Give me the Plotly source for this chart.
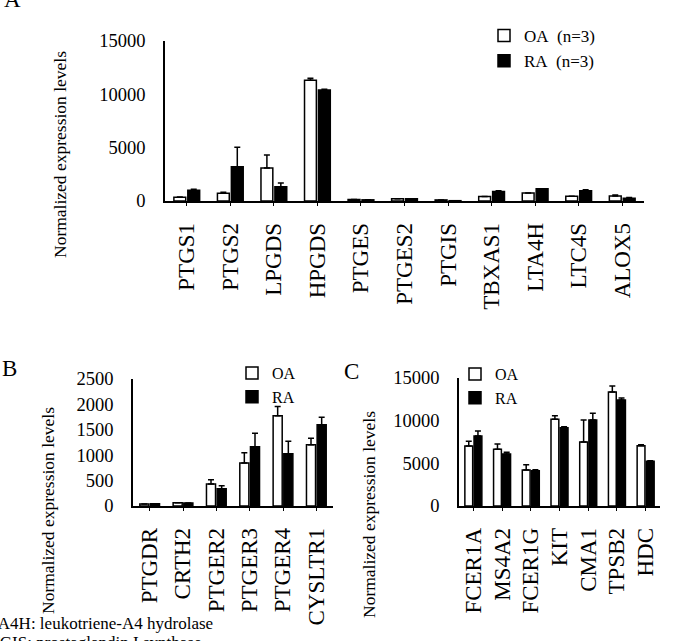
import plotly.graph_objects as go

# ---------------- data ----------------
genes_A = ["PTGS1", "PTGS2", "LPGDS", "HPGDS", "PTGES", "PTGES2", "PTGIS",
           "TBXAS1", "LTA4H", "LTC4S", "ALOX5"]
oa_A = [340, 720, 3090, 11310, 150, 220, 100, 420, 750, 440, 460]
oa_A_err = [30, 90, 1220, 190, 0, 0, 0, 0, 0, 0, 100]
ra_A = [1000, 3220, 1340, 10400, 110, 220, 30, 900, 1150, 960, 250]
ra_A_err = [100, 1810, 350, 70, 0, 0, 0, 60, 0, 90, 70]

genes_B = ["PTGDR", "CRTH2", "PTGER2", "PTGER3", "PTGER4", "CYSLTR1"]
oa_B = [40, 66, 433, 846, 1778, 1207]
oa_B_err = [0, 0, 85, 204, 183, 125]
ra_B = [46, 60, 341, 1168, 1030, 1600]
ra_B_err = [0, 0, 59, 262, 243, 145]

genes_C = ["FCER1A", "MS4A2", "FCER1G", "KIT", "CMA1", "TPSB2", "HDC"]
oa_C = [7030, 6640, 4220, 10160, 7500, 13360, 7070]
oa_C_err = [550, 625, 625, 430, 2580, 700, 120]
ra_C = [8200, 6090, 4140, 9180, 10080, 12420, 5230]
ra_C_err = [590, 200, 120, 120, 780, 240, 80]

yticks_A = [0, 5000, 10000, 15000]
yticks_B = [0, 500, 1000, 1500, 2000, 2500]
yticks_C = [0, 5000, 10000, 15000]

footnotes = ["LTA4H: leukotriene-A4 hydrolase", "PTGIS: prostaglandin I synthase"]

# ---------------- layout helpers ----------------
W, H = 676, 641
SERIF = "Liberation Serif"


def fx(px):
    return px / W


def fy(py):
    return 1 - py / H


fig = go.Figure()


def add_pair(genes, oa, oa_err, ra, ra_err, xa, ya, legend, oa_name, ra_name, cap):
    n = len(genes)
    fig.add_trace(go.Bar(
        x=genes, y=oa, name=oa_name, xaxis=xa, yaxis=ya, legend=legend,
        marker=dict(color="white", line=dict(color="black", width=1.5)),
        error_y=dict(type="data", array=oa_err, arrayminus=[0] * n, symmetric=False,
                     color="black", thickness=1.5, width=cap),
    ))
    fig.add_trace(go.Bar(
        x=genes, y=ra, name=ra_name, xaxis=xa, yaxis=ya, legend=legend,
        marker=dict(color="black", line=dict(color="black", width=1.5)),
        error_y=dict(type="data", array=ra_err, arrayminus=[0] * n, symmetric=False,
                     color="black", thickness=1.5, width=cap),
    ))


nb = "\u00a0"
add_pair(genes_A, oa_A, oa_A_err, ra_A, ra_A_err, "x", "y", "legend",
         "OA" + nb * 2 + "(n=3)", "RA" + nb * 2 + "(n=3)", 3)
add_pair(genes_B, oa_B, oa_B_err, ra_B, ra_B_err, "x2", "y2", "legend2", "OA", "RA", 3)
add_pair(genes_C, oa_C, oa_C_err, ra_C, ra_C_err, "x3", "y3", "legend3", "OA", "RA", 3)


def xaxis(domain, anchor):
    return dict(domain=domain, anchor=anchor, showline=True, linecolor="black",
                linewidth=1.5, ticks="outside", ticklen=3, tickwidth=1,
                tickcolor="black", tickangle=-90, showgrid=False, zeroline=False,
                automargin=False, ticklabelstandoff=8,
                tickfont=dict(family=SERIF, size=23, color="black"))


def yaxis(domain, anchor, rng, tv):
    return dict(domain=domain, anchor=anchor, range=rng, tickvals=tv,
                ticktext=[str(v) for v in tv],
                showline=True, linecolor="black", linewidth=1.5, ticks="",
                showgrid=False, zeroline=False, automargin=False,
                ticklabelstandoff=14,
                tickfont=dict(family=SERIF, size=18.5, color="black"))


legend_common = dict(xanchor="left", yanchor="top", bgcolor="rgba(0,0,0,0)",
                     tracegroupgap=0, itemclick=False)

fig.update_layout(
    width=W, height=H,
    margin=dict(l=0, r=0, t=0, b=0),
    paper_bgcolor="white", plot_bgcolor="white",
    barmode="group", bargap=0.36, bargroupgap=0.15,
    font=dict(family=SERIF, color="black"),
    xaxis=xaxis([fx(165), fx(644)], "y"),
    yaxis=yaxis([fy(201), fy(41)], "x", [0, 15000], yticks_A),
    xaxis2=xaxis([fx(133), fx(333)], "y2"),
    yaxis2=yaxis([fy(506), fy(379)], "x2", [0, 2500], yticks_B),
    xaxis3=xaxis([fx(459), fx(660)], "y3"),
    yaxis3=yaxis([fy(506), fy(378)], "x3", [0, 15000], yticks_C),
    legend=dict(x=fx(484), y=fy(18), font=dict(family=SERIF, size=17, color="black"),
                **legend_common),
    legend2=dict(x=fx(232), y=fy(356), font=dict(family=SERIF, size=16, color="black"),
                 **legend_common),
    legend3=dict(x=fx(455), y=fy(357), font=dict(family=SERIF, size=16, color="black"),
                 **legend_common),
)

annos = []
# panel letters
for letter, px, py in [("A", 2, 14), ("B", 0, 383), ("C", 342, 386)]:
    annos.append(dict(text=letter, x=fx(px), y=fy(py), xref="paper", yref="paper",
                      xanchor="left", yanchor="bottom", showarrow=False,
                      font=dict(family=SERIF, size=23, color="black")))
# y-axis titles
for px, py in [(60, 155), (48, 511), (369, 514)]:
    annos.append(dict(text="Normalized expression levels", x=fx(px), y=fy(py),
                      xref="paper", yref="paper", xanchor="center", yanchor="middle",
                      textangle=-90, showarrow=False,
                      font=dict(family=SERIF, size=17.5, color="black")))
# footnotes (partly outside the picture, as in the reference)
for i, t in enumerate(footnotes):
    annos.append(dict(text=t, x=fx(-22), y=fy(623 + 19 * i), xref="paper", yref="paper",
                      xanchor="left", yanchor="middle", showarrow=False,
                      font=dict(family=SERIF, size=17, color="black")))
fig.update_layout(annotations=annos)

fig.write_html("out.html")
